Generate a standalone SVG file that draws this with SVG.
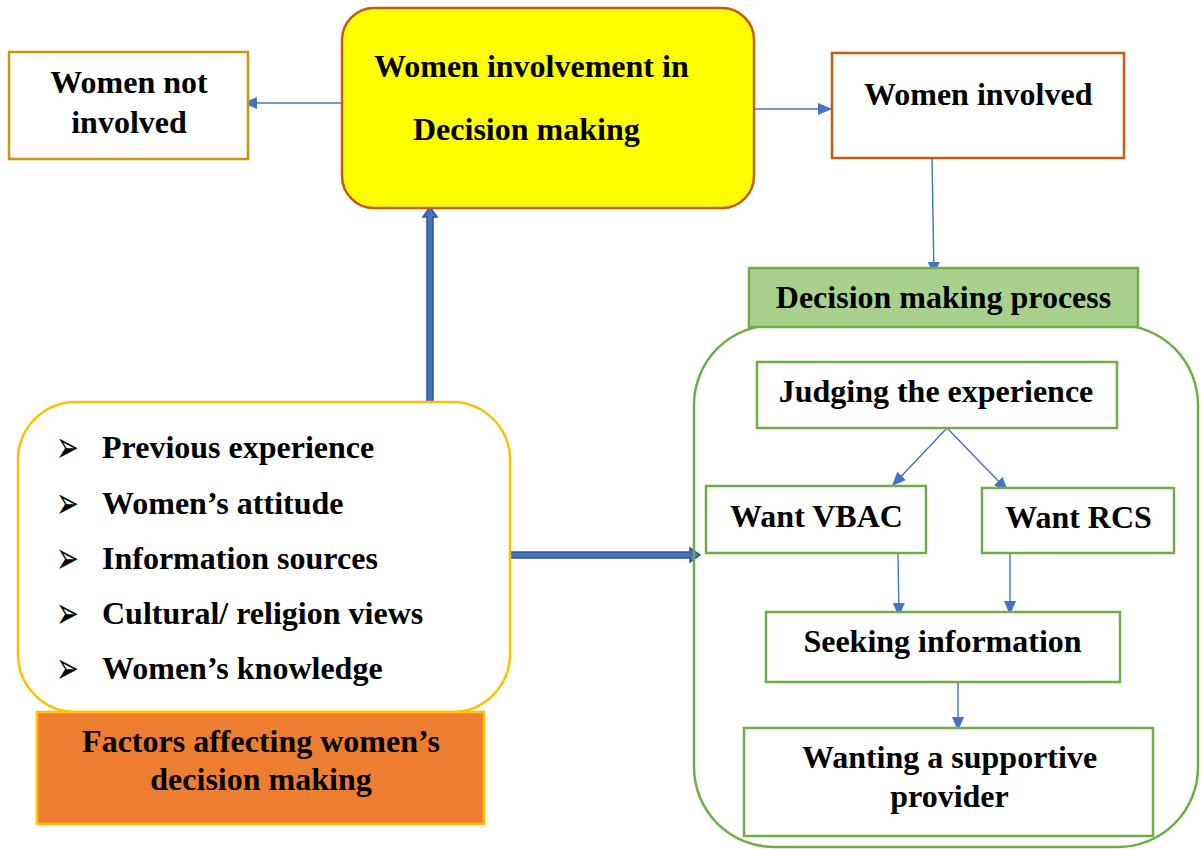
<svg xmlns="http://www.w3.org/2000/svg" width="1201" height="849" viewBox="0 0 1201 849">
<defs>
<style>
.t{font-family:"Liberation Serif","Times New Roman",serif;font-weight:bold;font-size:32px;fill:#000}
.c{text-anchor:middle}
.g{fill:#fff;stroke:#70AD47;stroke-width:2.5}
.thin{stroke:#4472C4;stroke-width:1.4;fill:none;marker-end:url(#ah)}
.blk{fill:#4472C4;stroke:#2F5597;stroke-width:1.5}
.bul{font-family:"DejaVu Sans",sans-serif;font-size:44px;fill:#000}
</style>
<marker id="ah" markerUnits="userSpaceOnUse" markerWidth="14" markerHeight="12" refX="14" refY="6" orient="auto">
<path d="M0,0 L14,6 L0,12 z" fill="#4472C4"/>
</marker>
</defs>
<rect width="1201" height="849" fill="#fff"/>

<g id="connectors">
<path class="thin" d="M342,103 L243,103"/>
<path class="thin" d="M754,109 L832,109"/>
<path class="thin" d="M932,158 L934,276"/>
<path class="thin" d="M947,428 L892,486"/>
<path class="thin" d="M947,428 L1008,491"/>
<path class="thin" d="M898,553 L899,617"/>
<path class="thin" d="M1010,553 L1010,615"/>
<path class="thin" d="M958,682 L958,731"/>
<polygon class="blk" points="427,402 427,217 423,217 430,207 437,217 433,217 433,402"/>
<polygon class="blk" points="510,552 690,552 690,548 700,555 690,562 690,558 510,558"/>
</g>

<g id="women-not-involved">
<rect x="9" y="52" width="239" height="107" fill="#fff" stroke="#C9980A" stroke-width="2.5"/>
<text class="t c" x="129" y="93">Women not</text>
<text class="t c" x="129" y="133">involved</text>
</g>

<g id="involvement">
<rect x="342" y="8" width="412" height="200" rx="32" fill="#FFFF00" stroke="#C55A11" stroke-width="2.5"/>
<text class="t" x="374" y="77">Women involvement in</text>
<text class="t" x="413" y="140">Decision making</text>
</g>

<g id="women-involved">
<rect x="832" y="53" width="292" height="105" fill="#fff" stroke="#C55A11" stroke-width="2.5"/>
<text class="t" x="864" y="105">Women involved</text>
</g>

<g id="process-container">
<rect x="694" y="325" width="504" height="522" rx="80" fill="none" stroke="#70AD47" stroke-width="2.5"/>
</g>

<g id="decision-process">
<rect x="749" y="268" width="389" height="59" fill="#A9D18E" stroke="#70AD47" stroke-width="2.5"/>
<text class="t c" x="943.5" y="308">Decision making process</text>
</g>

<g id="judging">
<rect class="g" x="757" y="362" width="360" height="66"/>
<text class="t c" x="936" y="402">Judging the experience</text>
</g>

<g id="vbac">
<rect class="g" x="706" y="486" width="220" height="67"/>
<text class="t c" x="816.5" y="527">Want VBAC</text>
</g>

<g id="rcs">
<rect class="g" x="982" y="488" width="192" height="65"/>
<text class="t c" x="1078.5" y="528">Want RCS</text>
</g>

<g id="seeking">
<rect class="g" x="766" y="612" width="354" height="70"/>
<text class="t c" x="942.5" y="652">Seeking information</text>
</g>

<g id="wanting">
<rect class="g" x="744" y="728" width="409" height="108"/>
<text class="t c" x="949.5" y="768">Wanting a supportive</text>
<text class="t c" x="949.5" y="807">provider</text>
</g>

<g id="factors-list">
<rect x="18" y="402" width="492" height="310" rx="58" fill="#fff" stroke="#FFC000" stroke-width="2.5"/>
<text class="bul" transform="translate(56 462) scale(0.62 1)">➢</text>
<text class="t" x="102" y="458">Previous experience</text>
<text class="bul" transform="translate(56 518) scale(0.62 1)">➢</text>
<text class="t" x="102" y="514">Women’s attitude</text>
<text class="bul" transform="translate(56 573) scale(0.62 1)">➢</text>
<text class="t" x="102" y="569">Information sources</text>
<text class="bul" transform="translate(56 628) scale(0.62 1)">➢</text>
<text class="t" x="102" y="624">Cultural/ religion views</text>
<text class="bul" transform="translate(56 683) scale(0.62 1)">➢</text>
<text class="t" x="102" y="679">Women’s knowledge</text>
</g>

<g id="factors-title">
<rect x="37" y="712" width="447" height="112" fill="#ED7D31" stroke="#FFC000" stroke-width="2.5"/>
<text class="t c" x="261" y="752">Factors affecting women’s</text>
<text class="t c" x="261" y="790">decision making</text>
</g>
</svg>
